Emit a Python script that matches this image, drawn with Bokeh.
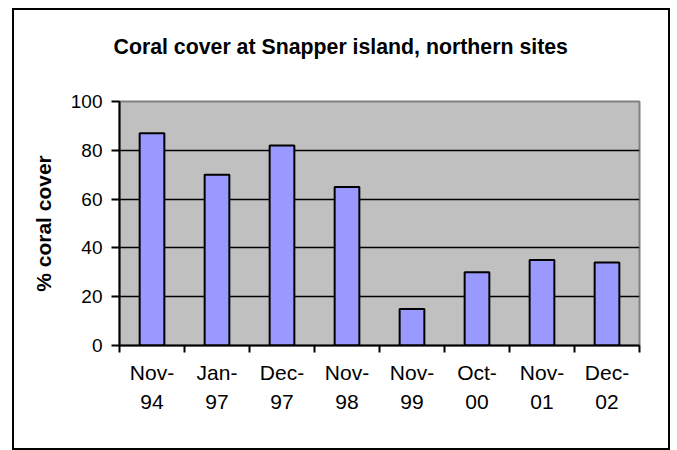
from bokeh.plotting import figure
from bokeh.models import FixedTicker, Range1d, ColumnDataSource, Title
from bokeh.embed import file_html
from bokeh.resources import INLINE

# --- data ---
months = ["Nov-94", "Jan-97", "Dec-97", "Nov-98", "Nov-99", "Oct-00", "Nov-01", "Dec-02"]
cover = [87, 70, 82, 65, 15, 30, 35, 34]
y_ticks = [0, 20, 40, 60, 80, 100]
title_text = "Coral cover at Snapper island, northern sites"
y_title = "% coral cover"

n = len(months)
xpos = [i + 0.5 for i in range(n)]
src = ColumnDataSource(dict(x=xpos, top=cover, label=months))

FONT = "Liberation Sans"

p = figure(width=658, height=442, output_backend="svg", toolbar_location=None,
           x_range=Range1d(0, n), y_range=Range1d(0, 100), title_location=None,
           min_border_left=107, min_border_right=31, min_border_top=0,
           min_border_bottom=105)
p.margin = (8, 0, 0, 12)
p.styles = {"outline": "2px solid black", "outline-offset": "-2px",
            "box-shadow": "inset 0 0 0 2px black", "background-color": "white"}

p.background_fill_color = "#C0C0C0"
p.border_fill_color = None
p.outline_line_color = "#808080"
p.outline_line_width = 2

# spacer (closest to frame), the visible title, then a spacer above it
p.add_layout(Title(text=" ", text_font_size="22.7px"), "above")
p.add_layout(Title(text=title_text, align="left", offset=-6,
                   text_font=FONT, text_font_size="21.3px", text_font_style="bold",
                   text_color="black"), "above")
p.add_layout(Title(text=" ", text_font_size="7px"), "above")

p.vbar(x="x", top="top", width=0.38, bottom=0, source=src,
       fill_color="#9999FF", line_color="black", line_width=2)

# grid
p.xgrid.visible = False
p.ygrid.ticker = FixedTicker(ticks=[20, 40, 60, 80])
p.ygrid.grid_line_color = "black"
p.ygrid.grid_line_width = 1.5

# y axis
p.yaxis.ticker = FixedTicker(ticks=y_ticks)
p.yaxis.axis_label = y_title
p.yaxis.axis_label_text_font = FONT
p.yaxis.axis_label_text_font_style = "bold"
p.yaxis.axis_label_text_font_size = "21px"
p.yaxis.axis_label_text_color = "black"
p.yaxis.axis_label_standoff = 13
p.yaxis.major_label_text_font = FONT
p.yaxis.major_label_text_font_size = "19px"
p.yaxis.major_label_text_color = "black"
p.yaxis.major_label_standoff = 9
p.yaxis.major_tick_in = 0
p.yaxis.major_tick_out = 8
p.yaxis.major_tick_line_width = 2
p.yaxis.minor_tick_line_color = None
p.yaxis.axis_line_width = 2
p.yaxis.axis_line_color = "black"

# x axis: labels at bar centres, ticks at category boundaries
p.xaxis.ticker = FixedTicker(ticks=xpos, minor_ticks=list(range(n + 1)))
p.xaxis.major_label_overrides = {x: m.replace("-", "-\n") for x, m in zip(xpos, months)}
p.xaxis.major_label_text_font = FONT
p.xaxis.major_label_text_font_size = "21px"
p.xaxis.major_label_text_color = "black"
p.xaxis.major_label_text_line_height = 1.3
p.xaxis.major_label_standoff = 8
p.xaxis.major_tick_line_color = None
p.xaxis.minor_tick_in = 0
p.xaxis.minor_tick_out = 7
p.xaxis.minor_tick_line_width = 2
p.xaxis.minor_tick_line_color = "black"
p.xaxis.axis_line_width = 2
p.xaxis.axis_line_color = "black"

open("out.html", "w").write(file_html(p, INLINE))
